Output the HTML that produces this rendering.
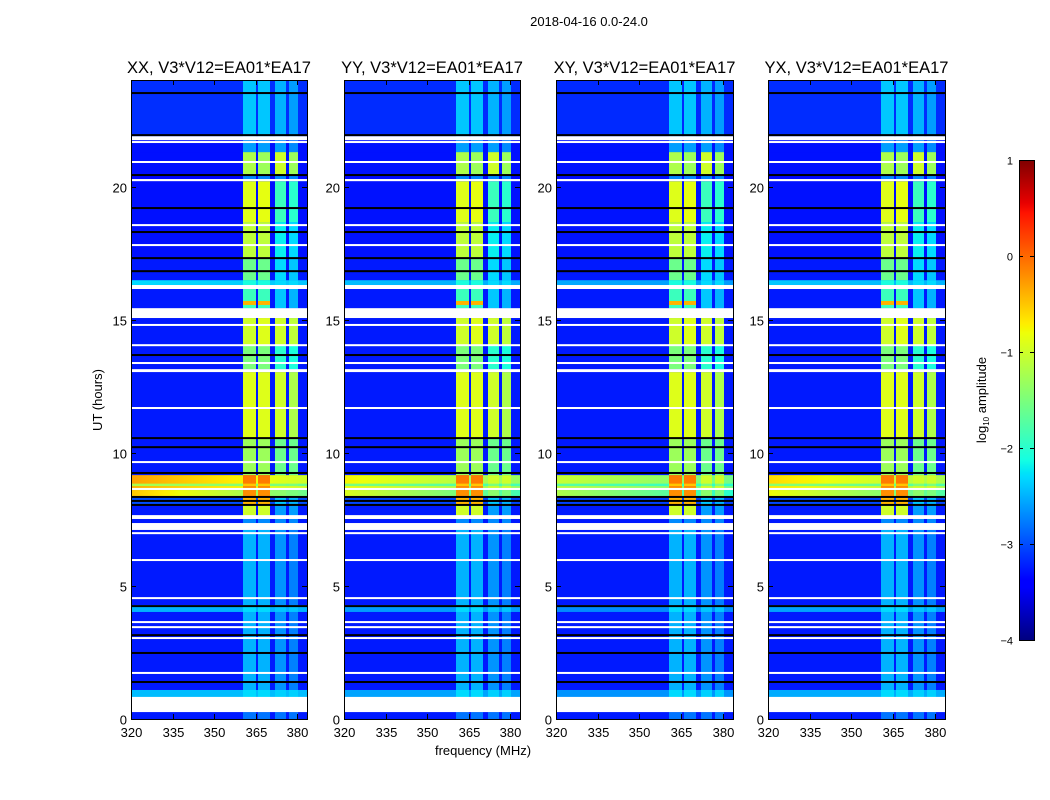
<!DOCTYPE html>
<html><head><meta charset="utf-8">
<style>
body{margin:0;background:#fff;}
#root{position:relative;width:1050px;height:800px;font-family:"Liberation Sans",sans-serif;background:#fff;overflow:hidden;}
canvas{position:absolute;image-rendering:pixelated;}
svg{position:absolute;left:0;top:0;}
</style></head><body>
<div id="root">
<canvas id="c0" width="176" height="639" style="left:131px;top:80px"></canvas>
<canvas id="c1" width="176" height="639" style="left:344px;top:80px"></canvas>
<canvas id="c2" width="177" height="639" style="left:556px;top:80px"></canvas>
<canvas id="c3" width="177" height="639" style="left:768px;top:80px"></canvas>
<canvas id="cb" width="15" height="480" style="left:1019px;top:160px"></canvas>
<svg id="ov" width="1050" height="800"></svg>
</div>
<script>
// ---- data ----
const panelTitles = ["XX, V3*V12=EA01*EA17","YY, V3*V12=EA01*EA17","XY, V3*V12=EA01*EA17","YX, V3*V12=EA01*EA17"];
const panelHScale = [1.0, 0.85, 0.75, 0.9];
const xTicks = [320,335,350,365,380];
const yTicks = [0,5,10,15,20];
const cbTicks = [1,0,-1,-2,-3,-4];
const cbTickLabels = ["1","0","\u22121","\u22122","\u22123","\u22124"];
// frequency bands (MHz): [f0, f1, index into band values]
const rfiBands = [[360.5,365.3,0],[366,370.3,1],[372,376,2],[377,380.5,3]];
// time segments: [utLo, utHi, bgLeft, bgRight, A, B, C, D]
const segments = [
 [21.89,24.0,-3.15,-3.15,-2.4,-2.4,-2.5,-2.6],
 [21.29,21.74,-3.3,-3.3,-2.6,-2.6,-2.6,-2.7],
 [20.43,21.29,-3.3,-3.3,-1.2,-1.3,-1.0,-1.3],
 [20.28,20.43,-3.35,-3.35,-2.7,-2.7,-2.7,-2.7],
 [18.66,20.20,-3.3,-3.3,-0.9,-0.85,-1.9,-2.0],
 [17.31,18.66,-3.3,-3.3,-1.1,-1.1,-2.2,-2.3],
 [16.48,17.31,-3.25,-3.25,-1.6,-1.6,-2.3,-2.4],
 [16.30,16.48,-2.3,-2.4,-2.1,-2.1,-2.3,-2.3],
 [15.70,16.15,-3.25,-3.25,-1.9,-1.9,-2.4,-2.5],
 [15.55,15.70,-3.25,-3.25,-0.4,-0.4,-2.4,-2.5],
 [15.43,15.55,-3.25,-3.25,-1.9,-1.9,-2.4,-2.5],
 [14.04,15.06,-3.25,-3.25,-1.0,-0.9,-1.0,-1.1],
 [13.14,14.04,-3.25,-3.25,-1.5,-1.5,-2.0,-2.1],
 [10.55,13.03,-3.25,-3.25,-0.9,-0.9,-1.0,-1.2],
 [9.16,10.55,-3.25,-3.25,-1.3,-1.3,-1.6,-1.6],
 [8.84,9.16,-0.3,-1.0,-0.1,-0.1,-1.0,-1.0],
 [8.75,8.84,-1.2,-1.6,-0.5,-0.5,-1.5,-1.5],
 [8.64,8.75,-0.4,-1.0,-0.2,-0.2,-1.0,-1.0],
 [8.34,8.60,-0.5,-1.6,-0.2,-0.2,-1.4,-1.5],
 [8.04,8.34,-3.0,-3.0,-0.4,-0.4,-2.4,-2.5],
 [7.62,8.04,-3.25,-3.25,-1.0,-1.0,-2.6,-2.6],
 [7.36,7.62,-3.25,-3.25,-2.7,-2.7,-2.7,-2.7],
 [4.28,7.10,-3.25,-3.25,-2.5,-2.5,-2.65,-2.75],
 [4.02,4.28,-2.5,-2.5,-2.3,-2.3,-2.4,-2.4],
 [1.09,4.02,-3.25,-3.25,-2.5,-2.5,-2.65,-2.75],
 [0.83,1.09,-2.45,-2.45,-2.3,-2.3,-2.35,-2.35],
 [0.0,0.26,-3.25,-3.25,-2.8,-2.8,-2.8,-2.8]
];
// flagged (white) blocks: [utLo, utHi]
const flagged = [[21.74,21.89],[20.20,20.28],[16.15,16.30],[15.06,15.43],[13.03,13.14],[8.60,8.64],[7.10,7.36],[0.26,0.83]];
const whiteLines = [21.67,20.92,18.55,17.80,14.80,14.04,13.37,11.68,9.65,8.64,7.62,7.55,6.98,5.97,4.54,3.64,3.45,3.04,1.73];
const blackLines = [23.51,21.93,20.43,19.19,18.29,17.31,16.82,13.67,10.55,10.21,9.24,8.34,8.19,8.04,4.24,3.15,2.48,1.39];

// ---- scales ----
const F0=320, F1=383.6, T0=0, T1=24, VMIN=-4, VMAX=1;
function jet(v){
  let x=(v-VMIN)/(VMAX-VMIN); x=Math.max(0,Math.min(1,x));
  function ip(pts){for(let i=1;i<pts.length;i++){if(x<=pts[i][0]){const a=pts[i-1],b=pts[i];return a[1]+(b[1]-a[1])*(x-a[0])/(b[0]-a[0]);}}return pts[pts.length-1][1];}
  const r=ip([[0,0],[0.35,0],[0.66,1],[0.89,1],[1,0.5]]);
  const g=ip([[0,0],[0.125,0],[0.375,1],[0.64,1],[0.91,0],[1,0]]);
  const b=ip([[0,0.5],[0.11,1],[0.34,1],[0.65,0],[1,0]]);
  return `rgb(${Math.round(r*255)},${Math.round(g*255)},${Math.round(b*255)})`;
}
function drawPanel(p){
  const cv=document.getElementById('c'+p), ctx=cv.getContext('2d');
  const W=cv.width,H=cv.height, s=panelHScale[p];
  const xf=f=>(f-F0)/(F1-F0)*W;
  const yt=t=>H-(t-T0)/(T1-T0)*H;
  ctx.fillStyle=jet(-3.25);ctx.fillRect(0,0,W,H);
  segments.forEach(sg=>{
    const y0=yt(sg[1]), y1=yt(sg[0]);
    for(let c=0;c<W;c++){
      const fr=c/(W-1);
      let bg=sg[2]+(sg[3]-sg[2])*fr;
      bg=-3.25+(bg+3.25)*s;
      const f=F0+(c+0.5)/W*(F1-F0);
      let v=bg;
      rfiBands.forEach(b=>{ if(f>=b[0]&&f<b[1]) v=Math.max(v,sg[4+b[2]]); });
      ctx.fillStyle=jet(v);
      ctx.fillRect(c,y0,1,y1-y0+0.5);
    }
  });
  ctx.fillStyle='#fff';
  flagged.forEach(fl=>{const y0=yt(fl[1]),y1=yt(fl[0]);ctx.fillRect(0,y0,W,y1-y0);});
  whiteLines.forEach(t=>ctx.fillRect(0,yt(t)-1,W,2));
  ctx.fillStyle='#000';
  blackLines.forEach(t=>ctx.fillRect(0,yt(t)-1,W,2));
}
[0,1,2,3].forEach(drawPanel);
// colorbar
(function(){const cv=document.getElementById('cb'),ctx=cv.getContext('2d');
for(let y=0;y<480;y++){ctx.fillStyle=jet(VMAX-(y+0.5)/480*(VMAX-VMIN));ctx.fillRect(0,y,15,1);}})();

// ---- overlay ----
const NS='http://www.w3.org/2000/svg', ov=document.getElementById('ov');
function el(tag,attrs,parent,txt){const e=document.createElementNS(NS,tag);for(const k in attrs)e.setAttribute(k,attrs[k]);if(txt!==undefined)e.textContent=txt;(parent||ov).appendChild(e);return e;}
const panelX=[131,344,556,768], panelW=[176,176,177,177], PT=80, PH=639;
panelX.forEach((x0,p)=>{
  const W=panelW[p];
  const g=el('g',{});
  
  
  const fr=el('rect',{x:x0+0.5,y:PT+0.5,width:W,height:PH,fill:'none',stroke:'#000','stroke-width':1},g);
  
  
  const t=el('text',{x:x0+W/2,y:73,'text-anchor':'middle','font-size':16.5,fill:'#000'},g,panelTitles[p]);
  
  
  const xs=f=>x0+(f-F0)/(F1-F0)*W;
  const ys=v=>PT+PH-(v-T0)/(T1-T0)*PH;
  xTicks.forEach(f=>{
    const x=Math.round(xs(f))+0.5;
    el('line',{x1:x,x2:x,y1:PT+PH,y2:PT+PH-5,stroke:'#000'},g);
    el('line',{x1:x,x2:x,y1:PT,y2:PT+5,stroke:'#000'},g);
    const l=el('text',{x:x,y:PT+PH+18,'text-anchor':'middle','font-size':13},g,String(f));
    
    
  });
  yTicks.forEach(v=>{
    const y=Math.round(ys(v))+0.5;
    el('line',{x1:x0,x2:x0+5,y1:y,y2:y,stroke:'#000'},g);
    el('line',{x1:x0+W,x2:x0+W-5,y1:y,y2:y,stroke:'#000'},g);
    const l=el('text',{x:x0-4,y:y+5,'text-anchor':'end','font-size':13},g,String(v));
    
    
  });
});
const st=el('text',{x:589,y:26,'text-anchor':'middle','font-size':13},ov,'2018-04-16 0.0-24.0');


const xl=el('text',{x:483,y:755,'text-anchor':'middle','font-size':13},ov,'frequency (MHz)');


const yl=el('text',{x:0,y:0,'text-anchor':'middle','font-size':13,transform:'translate(102,400) rotate(-90)'},ov,'UT (hours)');


const cbl=el('text',{x:0,y:0,'text-anchor':'middle','font-size':13,transform:'translate(986,400) rotate(-90)'},ov);


cbl.appendChild(document.createTextNode('log'));
el('tspan',{'font-size':8,dy:3},cbl,'10');
el('tspan',{dy:-3},cbl,' amplitude');
const cbf=el('rect',{x:1019.5,y:160.5,width:15,height:480,fill:'none',stroke:'#000'},ov);


cbTicks.forEach((v,i)=>{
  const y=Math.round(160+(VMAX-v)/(VMAX-VMIN)*480)+0.5;
  el('line',{x1:1019,x2:1023,y1:y,y2:y,stroke:'#000'},ov);
  el('line',{x1:1034,x2:1030,y1:y,y2:y,stroke:'#000'},ov);
  const l=el('text',{x:1013,y:y+4,'text-anchor':'end','font-size':11},ov,cbTickLabels[i]);
  
  
});
</script>
</body></html>
